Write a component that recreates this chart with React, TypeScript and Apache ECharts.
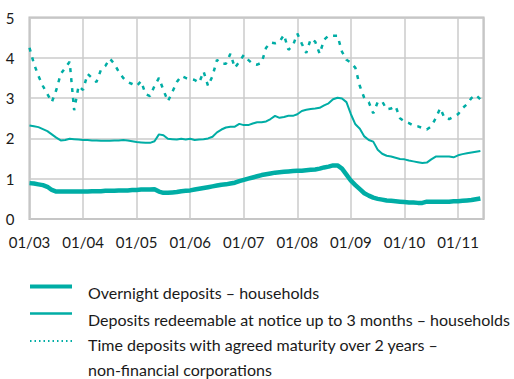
import React, { useEffect, useRef } from "react";
import * as echarts from "echarts";

// Monthly interest rates (%), January 2003 – June 2011
const startYear = 2003;
const tickYears = ["03", "04", "05", "06", "07", "08", "09", "10", "11"];

const overnightHouseholds = [
  0.89, 0.88, 0.86, 0.84, 0.8, 0.72, 0.68, 0.68, 0.68, 0.68, 0.68, 0.68,
  0.68, 0.68, 0.69, 0.69, 0.69, 0.7, 0.7, 0.7, 0.71, 0.71, 0.71, 0.72,
  0.72, 0.73, 0.73, 0.73, 0.74, 0.68, 0.65, 0.65, 0.66, 0.67, 0.69, 0.7,
  0.71, 0.73, 0.75, 0.77, 0.79, 0.81, 0.83, 0.85, 0.86, 0.88, 0.9, 0.94,
  0.97, 1.0, 1.03, 1.06, 1.09, 1.11, 1.13, 1.15, 1.16, 1.17, 1.18, 1.19,
  1.2, 1.2, 1.21, 1.22, 1.23, 1.25, 1.28, 1.3, 1.33, 1.33, 1.25, 1.1,
  0.95, 0.84, 0.74, 0.64, 0.58, 0.53, 0.5, 0.48, 0.46, 0.45, 0.44, 0.43,
  0.42, 0.41, 0.41, 0.4, 0.4, 0.43, 0.43, 0.43, 0.43, 0.43, 0.43, 0.44,
  0.44, 0.45, 0.46, 0.47, 0.49, 0.51,
];

const noticeHouseholds = [
  2.32, 2.3, 2.28, 2.23, 2.18, 2.1, 2.02, 1.95, 1.96, 1.99, 1.98, 1.97,
  1.96, 1.96, 1.95, 1.95, 1.94, 1.94, 1.94, 1.95, 1.95, 1.96, 1.95, 1.93,
  1.91, 1.9, 1.89, 1.89, 1.93, 2.1, 2.08, 1.99, 1.98, 1.97, 1.99, 1.97,
  1.99, 1.96, 1.97, 1.98, 2.0, 2.04, 2.15, 2.22, 2.27, 2.29, 2.29, 2.36,
  2.33, 2.33, 2.37, 2.4, 2.4, 2.42, 2.48, 2.56, 2.51, 2.53, 2.56, 2.56,
  2.6, 2.68, 2.71, 2.73, 2.74, 2.76, 2.82, 2.87, 2.97, 3.01, 2.99, 2.9,
  2.6, 2.35, 2.24, 2.05, 1.96, 1.92, 1.72, 1.62, 1.57, 1.55, 1.52, 1.49,
  1.48, 1.45, 1.43, 1.41, 1.39, 1.4, 1.48, 1.55, 1.55, 1.55, 1.55, 1.53,
  1.58, 1.61, 1.63, 1.65, 1.67, 1.69,
];

const timeDepositsNFC = [
  4.25, 3.85, 3.55, 3.3, 3.1, 2.9, 3.2, 3.6, 3.75, 3.9, 2.7, 3.3,
  3.2, 3.6, 3.5, 3.4, 3.7, 3.8, 3.98, 3.85, 3.65, 3.5, 3.4, 3.35,
  3.3, 3.42, 3.1, 3.05, 3.3, 3.5, 3.2, 2.92, 3.15, 3.4, 3.55, 3.5,
  3.48, 3.45, 3.38, 3.66, 3.3, 3.55, 3.95, 3.85, 3.85, 4.1, 3.75, 3.9,
  4.07, 3.95, 3.85, 3.83, 3.88, 4.25, 4.38, 4.36, 4.4, 4.57, 4.2, 4.3,
  4.6, 4.35, 4.12, 4.47, 4.4, 4.1, 4.45, 4.55, 4.55, 4.55, 4.15, 3.95,
  3.88, 3.75, 3.3, 3.0, 2.9, 2.62, 2.9, 2.92, 2.72, 2.74, 2.8, 2.5,
  2.42, 2.38, 2.32, 2.3, 2.26, 2.22, 2.3, 2.5, 2.75, 2.5, 2.48, 2.54,
  2.6, 2.75, 2.85, 3.0, 3.08, 2.97,
];

const seriesNames = [
  "Overnight deposits – households",
  "Deposits redeemable at notice up to 3 months – households",
  "Time deposits with agreed maturity over 2 years –\nnon-financial corporations",
];

const TEAL = "#00ada5";
const GRID_COLOR = "#cbcbcb";
const FONT = "Lato, 'Open Sans', sans-serif";

const toPoints = (values: number[]) => values.map((v, i) => [i, v]);

export default function App() {
  const ref = useRef<HTMLDivElement>(null);

  useEffect(() => {
    if (!ref.current) return;
    const chart = echarts.init(ref.current, undefined, { renderer: "svg" });

    const legendLeft = 30;
    const legendRight = 72;
    const textX = 88;
    const legendFont = `16px ${FONT}`;

    chart.setOption({
      animation: false,
      grid: {
        left: 29.5,
        top: 17.5,
        right: 30.5,
        bottom: 160,
        show: true,
        borderColor: "#b9b9b9",
        borderWidth: 2,
      },
      xAxis: {
        type: "value",
        min: 0,
        max: 101.7,
        interval: 12,
        axisLine: { show: false },
        axisTick: { show: false },
        splitLine: { show: true, lineStyle: { color: GRID_COLOR, width: 1.5 } },
        axisLabel: {
          showMaxLabel: false,
          margin: 15,
          color: "#1a1a1a",
          fontFamily: FONT,
          fontSize: 15,
          formatter: (v: number) => {
            const idx = Math.round(v / 12);
            return "01/" + (tickYears[idx] ?? String((startYear + idx) % 100).padStart(2, "0"));
          },
        },
      },
      yAxis: {
        type: "value",
        min: 0,
        max: 5,
        interval: 1,
        axisLine: { show: false },
        axisTick: { show: false },
        splitLine: { show: true, lineStyle: { color: GRID_COLOR, width: 1.5 } },
        axisLabel: {
          margin: 15,
          color: "#1a1a1a",
          fontFamily: FONT,
          fontSize: 15,
        },
      },
      series: [
        {
          name: seriesNames[0],
          type: "line",
          data: toPoints(overnightHouseholds),
          showSymbol: false,
          lineStyle: { color: TEAL, width: 4.5 },
          z: 3,
        },
        {
          name: seriesNames[1],
          type: "line",
          data: toPoints(noticeHouseholds),
          showSymbol: false,
          lineStyle: { color: TEAL, width: 2 },
          z: 3,
        },
        {
          name: seriesNames[2],
          type: "line",
          data: toPoints(timeDepositsNFC),
          showSymbol: false,
          lineStyle: { color: TEAL, width: 2.5, type: [4, 6] },
          z: 3,
        },
      ],
      graphic: [
        {
          type: "line",
          shape: { x1: legendLeft, y1: 286.5, x2: legendRight, y2: 286.5 },
          style: { stroke: TEAL, lineWidth: 4 },
        },
        {
          type: "line",
          shape: { x1: legendLeft, y1: 313.5, x2: legendRight, y2: 313.5 },
          style: { stroke: TEAL, lineWidth: 2.5 },
        },
        {
          type: "line",
          shape: { x1: legendLeft, y1: 341, x2: legendRight + 1, y2: 341 },
          style: { stroke: TEAL, lineWidth: 2, lineDash: [1.5, 3] },
        },
        {
          type: "text",
          x: textX,
          y: 292.5,
          style: {
            text: seriesNames[0],
            fill: "#1a1a1a",
            font: legendFont,
            verticalAlign: "middle",
          },
        },
        {
          type: "text",
          x: textX,
          y: 319,
          style: {
            text: seriesNames[1],
            fill: "#1a1a1a",
            font: legendFont,
            verticalAlign: "middle",
          },
        },
        {
          type: "text",
          x: textX,
          y: 332.5,
          style: {
            text: seriesNames[2],
            fill: "#1a1a1a",
            font: legendFont,
            lineHeight: 24.5,
            verticalAlign: "top",
          },
        },
      ],
    });

    return () => chart.dispose();
  }, []);

  return <div ref={ref} style={{ width: 514, height: 379, position: "absolute", left: 0, top: 0 }} />;
}
